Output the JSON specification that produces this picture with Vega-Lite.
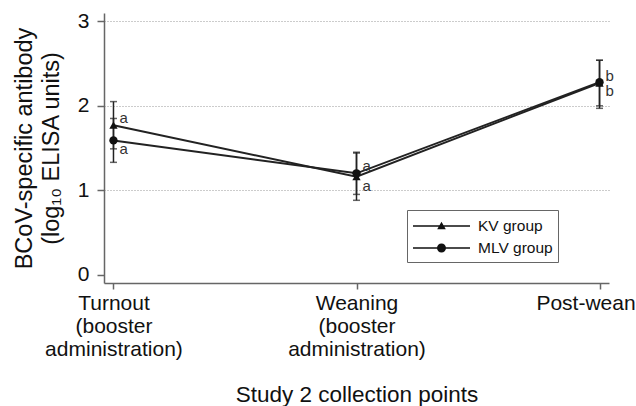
{
  "$schema": "https://vega.github.io/schema/vega-lite/v6.json",
  "width": 505,
  "height": 270,
  "autosize": "none",
  "padding": {"left": 104, "top": 13, "right": 27, "bottom": 123},
  "background": "white",
  "config": {
    "font": "Liberation Sans",
    "view": {"stroke": null},
    "axis": {
      "domainColor": "#666",
      "domainWidth": 1.5,
      "tickColor": "#666",
      "tickWidth": 1.5,
      "labelColor": "#111",
      "titleColor": "#111",
      "titleFontWeight": "normal",
      "labelFont": "Liberation Sans",
      "titleFont": "Liberation Sans"
    }
  },
  "data": {
    "values": [
      {"time": "Turnout", "group": "KV group", "mean": 1.77, "lo": 1.49, "hi": 2.05, "letter": "a", "pos": "above"},
      {"time": "Turnout", "group": "MLV group", "mean": 1.59, "lo": 1.33, "hi": 1.85, "letter": "a", "pos": "below"},
      {"time": "Weaning", "group": "KV group", "mean": 1.16, "lo": 0.88, "hi": 1.44, "letter": "a", "pos": "below"},
      {"time": "Weaning", "group": "MLV group", "mean": 1.20, "lo": 0.95, "hi": 1.45, "letter": "a", "pos": "above"},
      {"time": "Post-wean", "group": "KV group", "mean": 2.27, "lo": 2.00, "hi": 2.54, "letter": "b", "pos": "above"},
      {"time": "Post-wean", "group": "MLV group", "mean": 2.28, "lo": 1.97, "hi": 2.54, "letter": "b", "pos": "below"}
    ]
  },
  "encoding": {
    "x": {
      "field": "time",
      "type": "ordinal",
      "sort": ["Turnout", "Weaning", "Post-wean"],
      "scale": {"type": "point", "padding": 0.039},
      "axis": {
        "title": "Study 2 collection points",
        "titleFontSize": 22.5,
        "titlePadding": 24,
        "labelFontSize": 21,
        "labelLineHeight": 23,
        "labelAngle": 0,
        "labelBaseline": "top",
        "labelPadding": 3,
        "labelOffset": {"condition": {"test": "datum.value == 'Post-wean'", "value": -14}, "value": 0},
        "tickSize": 6,
        "grid": false,
        "labelExpr": "datum.value == 'Turnout' ? ['Turnout', '(booster', 'administration)'] : datum.value == 'Weaning' ? ['Weaning', '(booster', 'administration)'] : datum.value"
      }
    }
  },
  "layer": [
    {
      "mark": {"type": "line", "color": "#222", "strokeWidth": 2},
      "encoding": {
        "y": {
          "field": "mean",
          "type": "quantitative",
          "scale": {"domain": [-0.1, 3.1], "nice": false, "zero": false},
          "axis": {
            "values": [0, 1, 2, 3],
            "format": "d",
            "title": ["BCoV-specific antibody", "(log₁₀ ELISA units)"],
            "titleFontSize": 23.5,
            "titleLineHeight": 27,
            "titlePadding": 14,
            "labelFontSize": 21,
            "labelPadding": 8,
            "tickSize": 7,
            "grid": true,
            "gridDash": [1, 2],
            "gridColor": "#999",
            "gridWidth": 1,
            "gridOpacity": {"condition": {"test": "datum.value === 0", "value": 0}, "value": 1}
          }
        },
        "detail": {"field": "group"}
      }
    },
    {
      "mark": {"type": "rule", "color": "#222", "strokeWidth": 1.5},
      "encoding": {
        "y": {"field": "lo", "type": "quantitative"},
        "y2": {"field": "hi"}
      }
    },
    {
      "mark": {"type": "tick", "color": "#222", "thickness": 1.5, "size": 7},
      "encoding": {"y": {"field": "lo", "type": "quantitative"}}
    },
    {
      "mark": {"type": "tick", "color": "#222", "thickness": 1.5, "size": 7},
      "encoding": {"y": {"field": "hi", "type": "quantitative"}}
    },
    {
      "transform": [{"filter": "datum.group == 'KV group'"}],
      "mark": {"type": "point", "shape": "triangle-up", "filled": true, "color": "#111", "size": 70, "opacity": 1},
      "encoding": {"y": {"field": "mean", "type": "quantitative"}}
    },
    {
      "transform": [{"filter": "datum.group == 'MLV group'"}],
      "mark": {"type": "point", "shape": "circle", "filled": true, "color": "#111", "size": 70, "opacity": 1},
      "encoding": {"y": {"field": "mean", "type": "quantitative"}}
    },
    {
      "transform": [{"filter": "datum.pos == 'above'"}],
      "mark": {"type": "text", "align": "left", "baseline": "middle", "dx": 6, "dy": -7, "fontSize": 15, "color": "#333"},
      "encoding": {"y": {"field": "mean", "type": "quantitative"}, "text": {"field": "letter"}}
    },
    {
      "transform": [{"filter": "datum.pos == 'below'"}],
      "mark": {"type": "text", "align": "left", "baseline": "middle", "dx": 6, "dy": 9, "fontSize": 15, "color": "#333"},
      "encoding": {"y": {"field": "mean", "type": "quantitative"}, "text": {"field": "letter"}}
    },
    {
      "mark": {"type": "point", "filled": true, "opacity": 0, "color": "#111"},
      "encoding": {
        "y": {"field": "mean", "type": "quantitative"},
        "shape": {
          "field": "group",
          "type": "nominal",
          "scale": {
            "domain": ["KV group", "MLV group"],
            "range": [
              "M-1,-0.07L4.7,-0.07L4.7,0.07L-1,0.07ZM1.85,-0.42L2.28,0.33L1.42,0.33Z",
              "M-1,-0.07L4.7,-0.07L4.7,0.07L-1,0.07ZM1.4,0A0.45,0.45 0 1,1 2.3,0A0.45,0.45 0 1,1 1.4,0Z"
            ]
          },
          "legend": {
            "title": null,
            "orient": "none",
            "legendX": 303,
            "legendY": 197,
            "padding": 5,
            "strokeColor": "#666",
            "fillColor": "white",
            "symbolSize": 400,
            "labelFontSize": 15.5,
            "labelColor": "#111",
            "labelOffset": 44,
            "rowPadding": 2,
            "encode": {
              "symbols": {
                "update": {
                  "fill": {"value": "#222"},
                  "stroke": {"value": "#222"},
                  "strokeWidth": {"value": 0.5},
                  "strokeOpacity": {"value": 1},
                  "fillOpacity": {"value": 1},
                  "opacity": {"value": 1}
                }
              }
            }
          }
        }
      }
    }
  ]
}
